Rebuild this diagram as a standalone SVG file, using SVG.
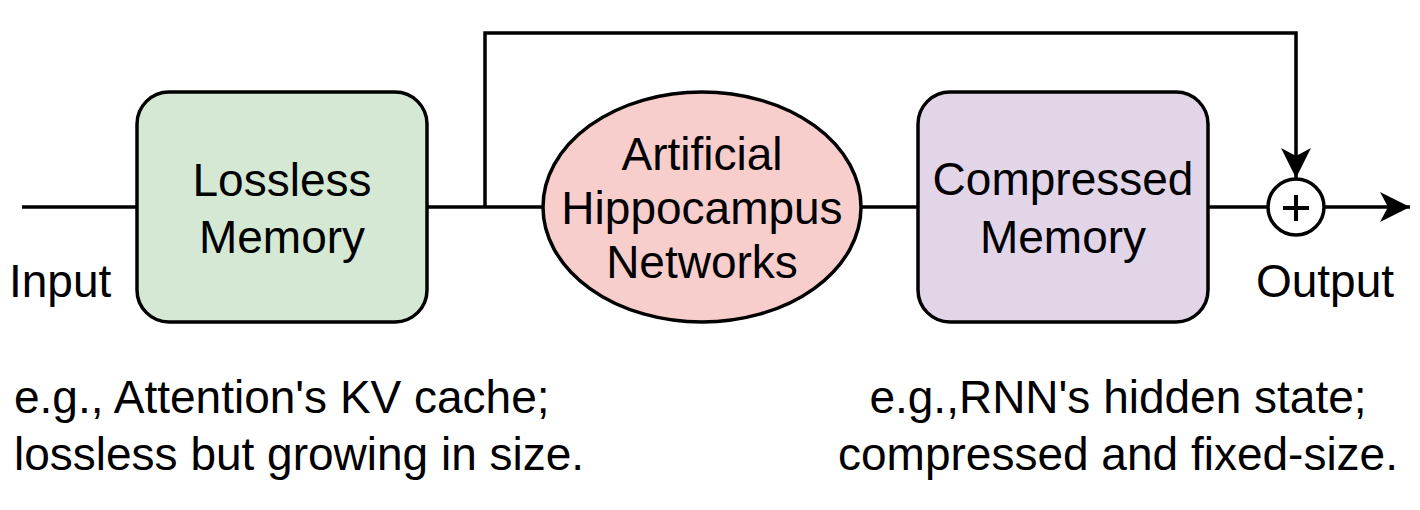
<svg xmlns="http://www.w3.org/2000/svg" width="1420" height="510" viewBox="0 0 1420 510">
<style>
text{font-family:"Liberation Sans",Arial,sans-serif;font-size:46px;fill:#000}
.c{text-anchor:middle}
.n{stroke:#000;stroke-width:3.5}
.e{fill:none;stroke:#000;stroke-width:3.5}
</style>
<defs>
<marker id="ah" viewBox="0 0 30 30" refX="30" refY="15" markerWidth="30" markerHeight="30" markerUnits="userSpaceOnUse" orient="auto">
<path d="M0,0 L30,15 L0,30 L8,15 Z" fill="#000"/>
</marker>
</defs>
<g id="connectors">
<path class="e" d="M22,207 H137"/>
<path class="e" d="M427,207 H543"/>
<path class="e" d="M861,207 H918"/>
<path class="e" d="M1208,207 H1267"/>
<path class="e" d="M485,207 V33 H1296 V178" marker-end="url(#ah)"/>
<path class="e" d="M1325,207 H1410" marker-end="url(#ah)"/>
</g>
<g id="input"><text x="9" y="297">Input</text></g>
<g id="lossless">
<rect class="n" x="137" y="92" width="290" height="230" rx="32" fill="#d5e8d4"/>
<text class="c" x="282" y="196">Lossless</text>
<text class="c" x="282" y="253">Memory</text>
</g>
<g id="hippocampus">
<ellipse class="n" cx="702" cy="207" rx="159" ry="115" fill="#f8cecc"/>
<text class="c" x="702" y="170">Artificial</text>
<text class="c" x="702" y="224">Hippocampus</text>
<text class="c" x="702" y="278">Networks</text>
</g>
<g id="compressed">
<rect class="n" x="918" y="92" width="290" height="230" rx="32" fill="#e1d5e7"/>
<text class="c" x="1063" y="195">Compressed</text>
<text class="c" x="1063" y="253">Memory</text>
</g>
<g id="sum">
<circle class="n" cx="1296" cy="207" r="28" fill="#fff"/>
<path d="M1283,208 H1309 M1296,195 V221" stroke="#000" stroke-width="4"/>
</g>
<g id="output"><text class="c" x="1325" y="297">Output</text></g>
<g id="note-left">
<text x="14" y="413">e.g., Attention's KV cache;</text>
<text x="14" y="470">lossless but growing in size.</text>
</g>
<g id="note-right">
<text class="c" x="1118" y="413">e.g.,RNN's hidden state;</text>
<text class="c" x="1118" y="470">compressed and fixed-size.</text>
</g>
</svg>
